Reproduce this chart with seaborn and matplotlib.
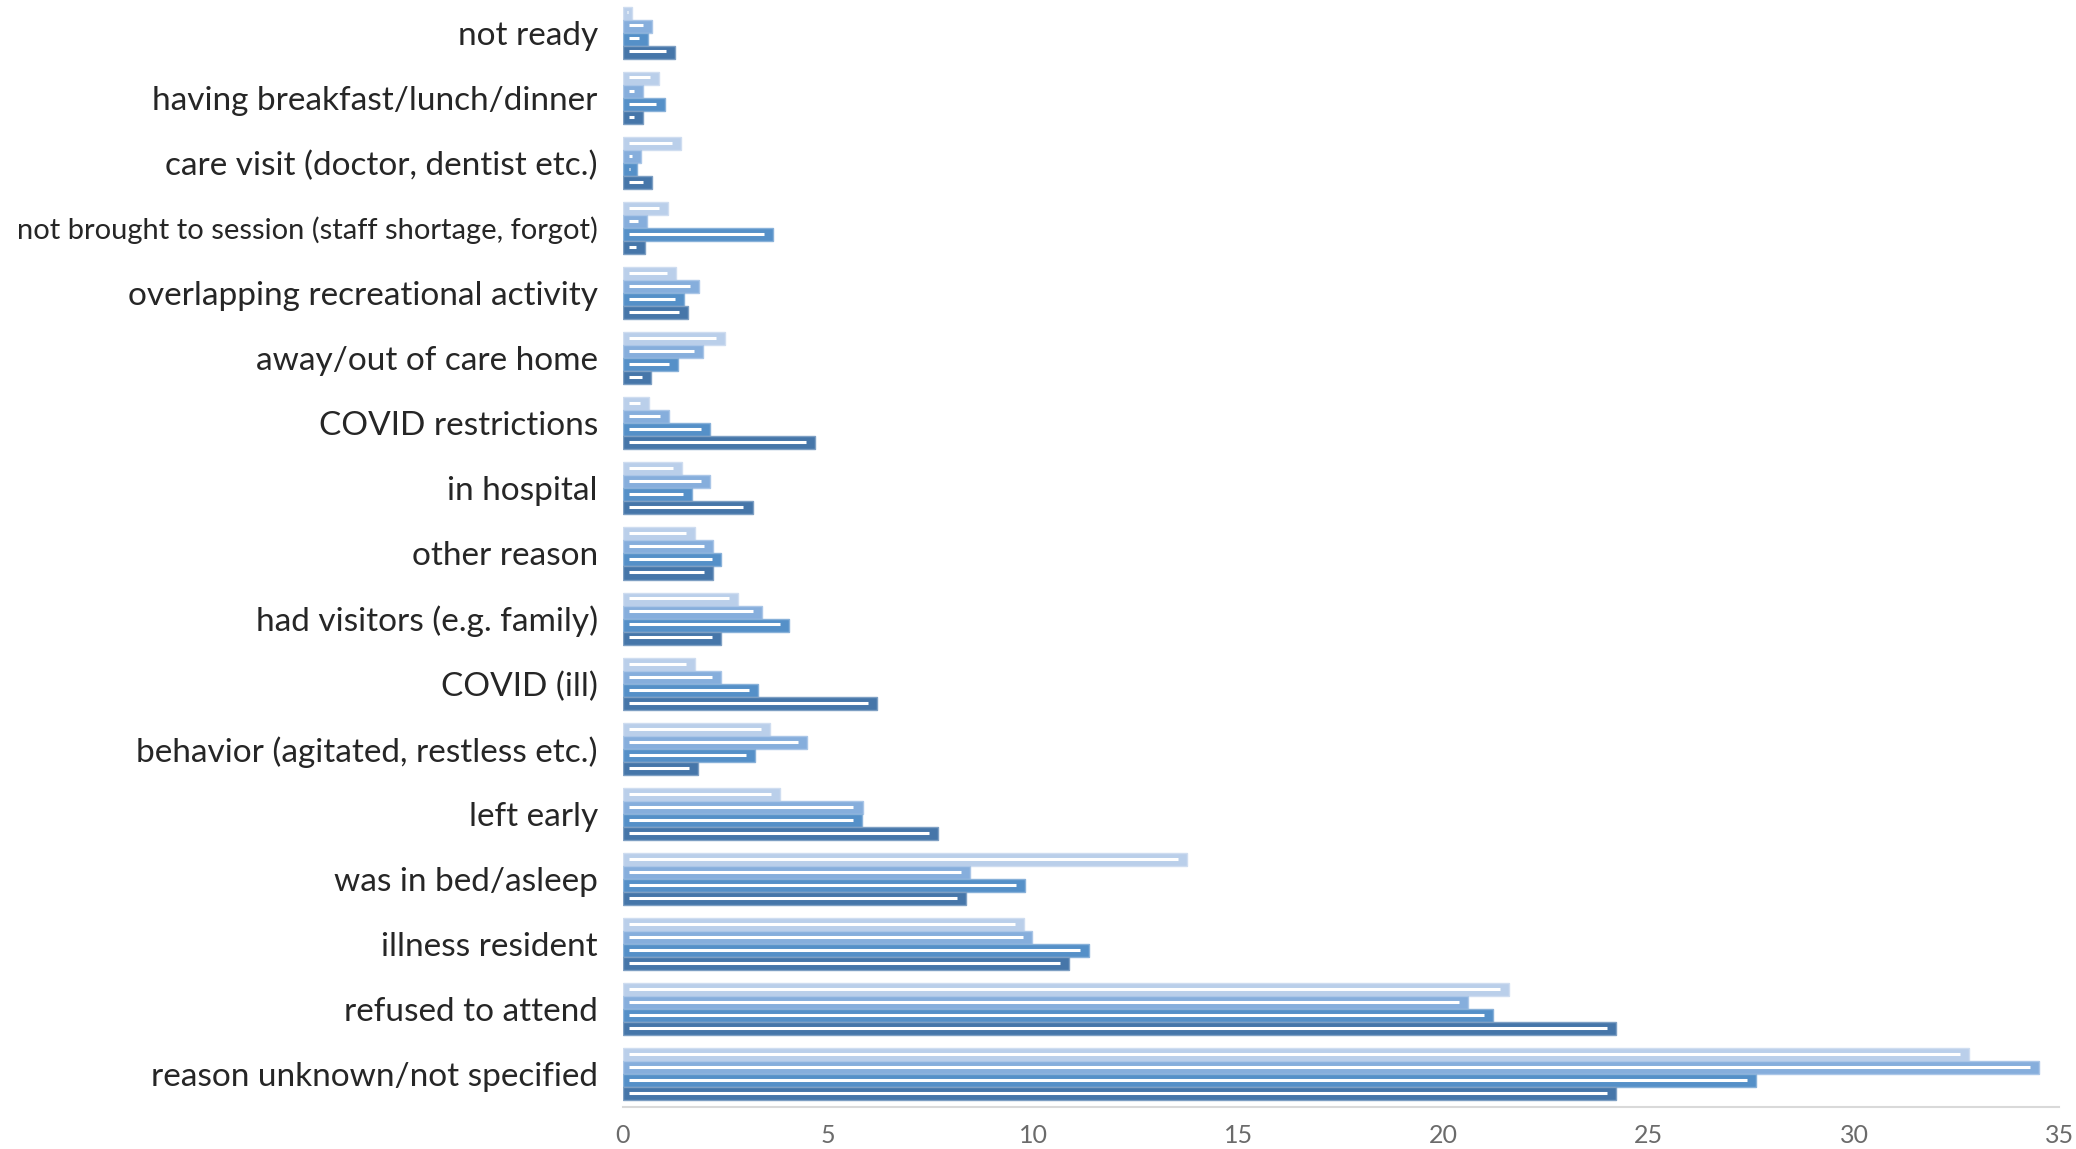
import pandas as pd
import numpy as np
import matplotlib
matplotlib.use("Agg")
import matplotlib.pyplot as plt
import matplotlib.colors as mcolors
import seaborn as sns

reasons = [
    "not ready",
    "having breakfast/lunch/dinner",
    "care visit (doctor, dentist etc.)",
    "not brought to session (staff shortage, forgot)",
    "overlapping recreational activity",
    "away/out of care home",
    "COVID restrictions",
    "in hospital",
    "other reason",
    "had visitors (e.g. family)",
    "COVID (ill)",
    "behavior (agitated, restless etc.)",
    "left early",
    "was in bed/asleep",
    "illness resident",
    "refused to attend",
    "reason unknown/not specified",
]

series_names = ["series 1", "series 2", "series 3", "series 4"]

s1 = [0.22, 0.88, 1.41, 1.10, 1.30, 2.50, 0.65, 1.45, 1.77, 2.80, 1.77, 3.58, 3.83, 13.75, 9.78, 21.6, 32.8]
s2 = [0.70, 0.49, 0.44, 0.60, 1.85, 1.95, 1.13, 2.13, 2.20, 3.40, 2.40, 4.48, 5.84, 8.46, 9.97, 20.6, 34.5]
s3 = [0.62, 1.02, 0.34, 3.65, 1.50, 1.35, 2.13, 1.68, 2.40, 4.06, 3.30, 3.23, 5.82, 9.80, 11.37, 21.2, 27.6]
s4 = [1.27, 0.49, 0.71, 0.55, 1.60, 0.68, 4.68, 3.16, 2.20, 2.40, 6.20, 1.84, 7.68, 8.37, 10.86, 24.2, 24.2]

colors = ["#BACFEA", "#86AEDC", "#5590C8", "#4676A9"]

df = pd.DataFrame({
    "reason": reasons * 4,
    "series": np.repeat(series_names, len(reasons)),
    "value": s1 + s2 + s3 + s4,
})

sns.set_style("white")
plt.rcParams["font.family"] = ["Lato", "DejaVu Sans"]

fig = plt.figure(figsize=(20.76, 11.49), dpi=100)
ax = fig.add_axes([0.300, 0.0366, 0.692, 0.9634])

sns.barplot(data=df, x="value", y="reason", hue="series", order=reasons,
            hue_order=series_names, palette=colors, saturation=1, orient="h",
            width=0.8, legend=False, ax=ax, linewidth=1.0)

# excel-ish look: pale outline + thin white highlight inside each bar
for p in ax.patches:
    fc = np.array(mcolors.to_rgb(p.get_facecolor()))
    p.set_edgecolor(tuple(fc + (1 - fc) * 0.3))
    x, y = p.get_x(), p.get_y()
    w, h = p.get_width(), p.get_height()
    x0, x1 = x + 0.15, x + w - 0.22
    if x1 <= x0:
        x0 = x + w / 2 - 0.01
        x1 = x0 + 0.02
    ax.plot([x0, x1], [y + h * 0.45, y + h * 0.45], color="white", lw=2.2,
            solid_capstyle="butt")

ax.set_xlim(0, 35)
ax.set_ylim(len(reasons) - 0.5, -0.5)
ax.set_xticks(range(0, 36, 5))
ax.set_xlabel("")
ax.set_ylabel("")

sns.despine(ax=ax, left=True, top=True, right=True)
ax.spines["bottom"].set_color("#D9D9D9")
ax.spines["bottom"].set_linewidth(1.5)

ax.tick_params(axis="x", length=0, pad=12, labelsize=18, labelcolor="#6b6b6b")
ax.tick_params(axis="y", length=0, pad=18, labelsize=24, labelcolor="#262626")
for lab in ax.get_yticklabels():
    if lab.get_text().startswith("not brought"):
        lab.set_fontsize(21)

fig.savefig("out.png", dpi=100)
